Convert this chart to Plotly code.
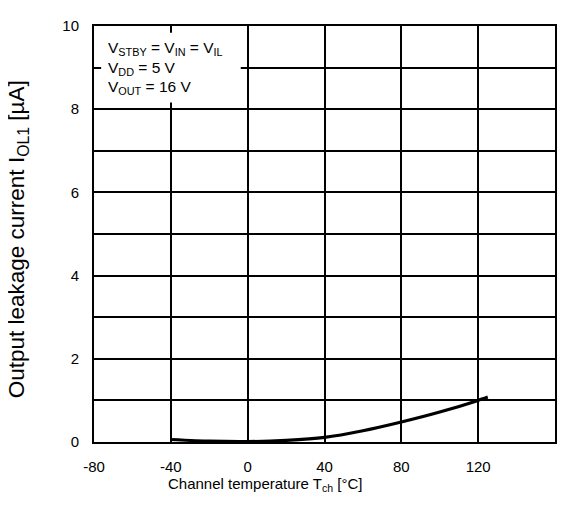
import plotly.graph_objects as go

# Data
temperature_c = [-40, -20, 0, 20, 40, 60, 80, 100, 120, 125]
leakage_ua = [0.06, 0.02, 0.01, 0.04, 0.11, 0.27, 0.48, 0.72, 1.0, 1.08]

x_tick_vals = [-80, -40, 0, 40, 80, 120, 160]
x_tick_text = ["-80", "-40", "0", "40", "80", "120", "160"]
y_tick_vals = list(range(0, 11))
y_tick_text = [str(v) if v % 2 == 0 else "" for v in y_tick_vals]

conditions = [
    "V<sub>STBY</sub> = V<sub>IN</sub> = V<sub>IL</sub>",
    "V<sub>DD</sub> = 5 V",
    "V<sub>OUT</sub> = 16 V",
]

FONT = "Liberation Sans, Arial, sans-serif"

fig = go.Figure()
fig.add_trace(go.Scatter(
    x=temperature_c, y=leakage_ua, mode="lines",
    line=dict(color="black", width=3.2, shape="spline", smoothing=0.6),
    hoverinfo="skip", showlegend=False,
))

axis_common = dict(
    showline=True, linecolor="black", linewidth=2, mirror=True,
    showgrid=True, gridcolor="black", gridwidth=1.7,
    zeroline=False, ticks="", ticklabelstandoff=10,
    tickfont=dict(family=FONT, size=15, color="black"),
)

fig.update_xaxes(range=[-80, 160], tickmode="array", tickvals=x_tick_vals,
                 ticktext=x_tick_text, **axis_common)
fig.update_yaxes(range=[0, 10], tickmode="array", tickvals=y_tick_vals,
                 ticktext=y_tick_text, **axis_common)

# white box hiding grid behind the conditions text
fig.add_shape(type="rect", xref="x", yref="y", x0=-76.3, x1=-3.6, y0=8.16, y1=9.84,
              fillcolor="white", line=dict(width=0), layer="above")

ys = [0.945, 0.899, 0.852]
for t, yy in zip(conditions, ys):
    fig.add_annotation(text=t, xref="paper", yref="paper", x=0.026, y=yy,
                       xanchor="left", yanchor="middle", showarrow=False,
                       font=dict(family=FONT, size=15.5, color="black"))

fig.add_annotation(text="Channel temperature T<sub>ch</sub> [°C]", xref="paper", yref="paper",
                   x=0.371, y=-0.101, xanchor="center", yanchor="middle", showarrow=False,
                   font=dict(family=FONT, size=15, color="black"))
fig.add_annotation(text="Output leakage current I<sub>OL1</sub> [µA]", xref="paper", yref="paper",
                   x=-0.163, y=0.487, xanchor="center", yanchor="middle", showarrow=False,
                   textangle=-90, font=dict(family=FONT, size=22.5, color="black"))

fig.update_layout(
    width=558, height=490,
    margin=dict(l=86, r=11, t=9, b=56),
    paper_bgcolor="white", plot_bgcolor="white",
    font=dict(family=FONT, color="black"),
)

fig.write_html("out.html")
